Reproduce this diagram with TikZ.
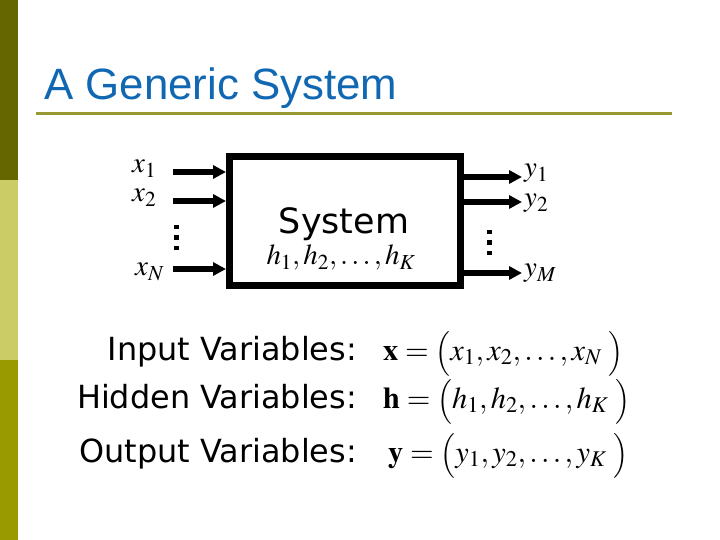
\documentclass[tikz,border=0pt]{standalone}
\usepackage{mathptmx}
\usepackage{fontspec}
\setmainfont{DejaVu Sans}
\newfontfamily\titlefont{Liberation Sans}
\usetikzlibrary{arrows.meta}
\definecolor{titleblue}{RGB}{17,104,178}
\definecolor{bardark}{RGB}{102,102,0}
\definecolor{barlight}{RGB}{204,204,102}
\definecolor{barmid}{RGB}{153,153,0}
\definecolor{ruleolive}{RGB}{153,153,51}
\newcommand{\vecparen}[1]{\mathopen{\hbox{\fontsize{25}{30}\selectfont$\Big#1$}}}

\begin{document}
\begin{tikzpicture}[x=1bp, y=-1bp,
  sig/.style={line width=5.5bp, -{Triangle[length=13bp, width=13bp]}},
  var/.style={inner sep=0pt, anchor=base west, font=\fontsize{29}{33}\selectfont},
  lbl/.style={inner sep=0pt, anchor=base east, font=\fontsize{32}{38}\selectfont},
  eqn/.style={inner sep=0pt, anchor=base west, font=\fontsize{30.5}{35}\selectfont}]
  \useasboundingbox (0,0) rectangle (720,540);
  \fill[bardark] (0,0) rectangle (18,180);
  \fill[barlight] (0,180) rectangle (18,360);
  \fill[barmid] (0,360) rectangle (18,540);
  \node[anchor=base west, inner sep=0pt, text=titleblue,
        font=\titlefont\fontsize{44}{50}\selectfont] (title) at (44,100) {A Generic System};
  \draw[ruleolive, line width=3bp] (36,114) -- (672,114);

  \node[draw, line width=7bp, minimum width=231bp, minimum height=128.5bp] (sys) at (345,220.75) {};
  \node[inner sep=0pt, anchor=base, font=\fontsize{35}{40}\selectfont] (systxt) at (344,234) {System};
  \node[var, anchor=base] (hid) at (341,265) {$h_1, h_2, \ldots, h_K$};

  \foreach \nm/\yv/\lx/\ly/\lb in {x1/172/132/173/{$x_1$}, x2/201/132/202/{$x_2$},
                                   xN/269/135/276/{$x_N$}} {
    \node[var] (\nm) at (\lx,\ly) {\lb};
    \coordinate (\nm-s) at (173,\yv);
    \draw[sig] (\nm-s) -- (\nm-s -| sys.west);
  }
  \foreach \nm/\yv/\lx/\ly/\lb in {y1/177/524/177/{$y_1$}, y2/202/524/207/{$y_2$},
                                   yM/273/524/277/{$y_M$}} {
    \node[var] (\nm) at (\lx,\ly) {\lb};
    \coordinate (\nm-e) at (522,\yv);
    \draw[sig] (sys.east |- \nm-e) -- (\nm-e);
  }
  \foreach \d in {0,1,2} {
    \fill (174,225+\d*10.5) rectangle +(4.5,4.5);
    \fill (487,230+\d*10.5) rectangle +(4.5,4.5);
  }

  \node[lbl] (inlbl) at (357,360) {Input Variables:};
  \node[lbl] (hidlbl) at (357,408) {Hidden Variables:};
  \node[lbl] (outlbl) at (357,462) {Output Variables:};
  \node[eqn] (xeq) at (383,360) {$\mathbf{x}=\vecparen(x_1, x_2, \ldots, x_N\;\vecparen)$};
  \node[eqn] (heq) at (383,408) {$\mathbf{h}=\vecparen(h_1, h_2, \ldots, h_K\;\vecparen)$};
  \node[eqn] (yeq) at (388,462) {$\mathbf{y}=\vecparen(y_1, y_2, \ldots, y_K\;\vecparen)$};
\end{tikzpicture}
\end{document}
